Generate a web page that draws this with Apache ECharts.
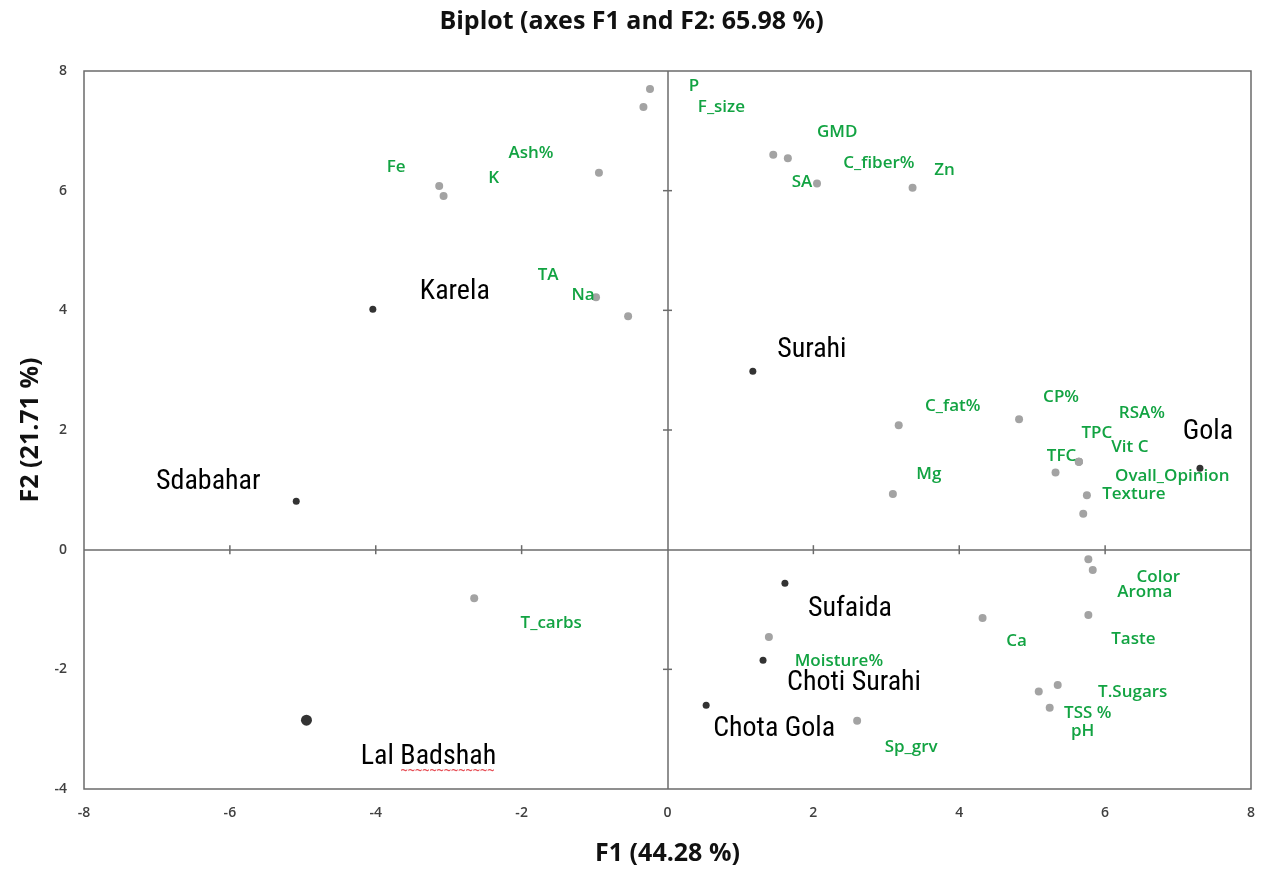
<!DOCTYPE html>
<html>
<head>
<meta charset="utf-8">
<script src="https://cdn.jsdelivr.net/npm/echarts@6/dist/echarts.min.js"></script>
<style>
html,body{margin:0;padding:0;background:#fff;}
#chart{width:1263px;height:871px;}
</style>
</head>
<body>
<div id="chart"></div>
<script>
// ---- Data ----
const varNames = ['P','F_size','Fe','K','Ash%','TA','Na','GMD','C_fiber%','SA','Zn',
  'C_fat%','CP%','RSA%','TPC','Vit C','TFC','Ovall_Opinion','Texture','Mg',
  'Color','Aroma','Taste','Ca','T.Sugars','TSS %','pH','Moisture%','Sp_grv','T_carbs'];
const varF1 = [-0.24,-0.33,-3.13,-3.07,-0.94,-0.54,-0.98,1.45,1.65,2.05,3.36,
  3.17,4.82,5.64,5.64,5.64,5.32,5.70,5.75,3.09,
  5.77,5.83,5.77,4.32,5.35,5.09,5.24,1.39,2.60,-2.65];
const varF2 = [7.70,7.40,6.08,5.91,6.30,3.90,4.22,6.60,6.54,6.12,6.05,
  2.08,2.18,1.47,1.47,1.47,1.29,0.60,0.91,0.93,
  -0.16,-0.34,-1.09,-1.14,-2.26,-2.37,-2.64,-1.46,-2.86,-0.81];

const obsNames = ['Karela','Sdabahar','Surahi','Gola','Sufaida','Choti Surahi','Chota Gola','Lal Badshah'];
const obsF1 = [-4.04,-5.09,1.17,7.30,1.61,1.31,0.53,-4.95];
const obsF2 = [4.02,0.81,2.98,1.36,-0.56,-1.85,-2.60,-2.85];

const xTicks = [-8,-6,-4,-2,0,2,4,6,8];
const yTicks = [-4,-2,0,2,4,6,8];

const titleText = 'Biplot (axes F1 and F2: 65.98 %)';
const xName = 'F1 (44.28 %)';
const yName = 'F2 (21.71 %)';

// ---- Styling: label offsets in pixels (label centre relative to the point) ----
const varLabelOffset = {
  'P':[44,-3],'F_size':[78,0],'Fe':[-43,-19],'K':[50,-18],'Ash%':[-68,-20],
  'TA':[-80,-41],'Na':[-13,-2],'GMD':[64,-23],'C_fiber%':[91,5],'SA':[-15,-1],'Zn':[32,-18],
  'C_fat%':[54,-19],'CP%':[42,-22],'RSA%':[63,-49],'TPC':[18,-29],'Vit C':[51,-15],
  'TFC':[6,-16],'Ovall_Opinion':[89,-38],'Texture':[47,-1],'Mg':[36,-20],
  'Color':[70,18],'Aroma':[52,22],'Taste':[45,24],'Ca':[34,23],'T.Sugars':[75,7],
  'TSS %':[49,22],'pH':[33,24],'Moisture%':[70,24],'Sp_grv':[54,26],'T_carbs':[77,25]
};
const obsLabelOffset = {
  'Karela':[82,-17],'Sdabahar':[-88,-19],'Surahi':[59,-21],'Gola':[8,-36],
  'Sufaida':[65,26],'Choti Surahi':[91,23],'Chota Gola':[68,24],'Lal Badshah':[122,37]
};

const axisGray = '#6b6b6b';
const green = '#12a342';

const varData = varNames.map((n,i)=>({
  value:[varF1[i],varF2[i]], name:n,
  label:{offset:varLabelOffset[n]}
}));
const obsData = obsNames.map((n,i)=>({
  value:[obsF1[i],obsF2[i]], name:n,
  symbolSize: n==='Lal Badshah'?11:7,
  label:{offset:obsLabelOffset[n]}
}));
// spell-check squiggle under "Badshah" (decoration attached to that observation)
const lbIdx = obsNames.indexOf('Lal Badshah');
const squiggleData = [{value:[obsF1[lbIdx],obsF2[lbIdx]], name:'~~~~~~~~~~~~~'}];

const xTickMarks = xTicks.filter(t=>t!==0 && t!==xTicks[0] && t!==xTicks[xTicks.length-1]).map(t=>[t,0]);
const yTickMarks = yTicks.filter(t=>t!==0 && t!==yTicks[0] && t!==yTicks[yTicks.length-1]).map(t=>[0,t]);

const boldFont = '"Open Sans", Lato, sans-serif';

const chart = echarts.init(document.getElementById('chart'), null, {renderer:'canvas'});
chart.setOption({
  animation:false,
  backgroundColor:'#fff',
  title:{
    text:titleText, left:'center', top:4,
    textStyle:{fontFamily:boldFont, fontWeight:'bold', fontSize:25, color:'#111'}
  },
  grid:{left:84, right:12, top:71, bottom:81, show:true, borderColor:axisGray, borderWidth:1.5, backgroundColor:'#fff'},
  xAxis:{
    type:'value', min:-8, max:8, interval:2,
    name:xName, nameLocation:'middle', nameGap:52,
    nameTextStyle:{fontFamily:boldFont, fontWeight:'bold', fontSize:25, color:'#111'},
    axisLine:{show:false, onZero:false}, axisTick:{show:false}, splitLine:{show:false},
    axisLabel:{margin:17, fontFamily:'"Open Sans", sans-serif', fontWeight:600, fontSize:14, color:'#404040'}
  },
  yAxis:{
    type:'value', min:-4, max:8, interval:2,
    name:yName, nameLocation:'middle', nameGap:38, nameRotate:90,
    nameTextStyle:{fontFamily:boldFont, fontWeight:'bold', fontSize:25, color:'#111'},
    axisLine:{show:false, onZero:false}, axisTick:{show:false}, splitLine:{show:false},
    axisLabel:{margin:17, fontFamily:'"Open Sans", sans-serif', fontWeight:600, fontSize:14, color:'#404040'}
  },
  series:[
    {
      type:'scatter', name:'axes', silent:true, symbol:'none', data:[],
      markLine:{
        silent:true, symbol:['none','none'], label:{show:false},
        lineStyle:{color:axisGray, width:1.5, type:'solid'},
        data:[{xAxis:0},{yAxis:0}]
      }
    },
    {type:'scatter', silent:true, symbol:'rect', symbolSize:[1.5,9], itemStyle:{color:axisGray, opacity:1}, data:xTickMarks},
    {type:'scatter', silent:true, symbol:'rect', symbolSize:[9,1.5], itemStyle:{color:axisGray, opacity:1}, data:yTickMarks},
    {
      type:'scatter', name:'Variables', symbolSize:8,
      itemStyle:{color:'#a3a3a3', opacity:1},
      label:{show:true, position:'inside', formatter:'{b}', color:green,
        fontFamily:'"Open Sans", sans-serif', fontWeight:600, fontSize:17},
      data:varData, z:3
    },
    {
      type:'scatter', name:'squiggle', silent:true, symbol:'circle', symbolSize:1,
      itemStyle:{color:'rgba(0,0,0,0)'},
      label:{show:true, position:'inside', formatter:'{b}', color:'#e0202a', offset:[141,51],
        fontFamily:'"DejaVu Sans Mono", monospace', fontSize:12, fontWeight:'bold'},
      data:squiggleData, z:4
    },
    {
      type:'scatter', name:'Observations',
      itemStyle:{color:'#333333', opacity:1},
      label:{show:true, position:'inside', formatter:'{b}', color:'#000',
        fontFamily:'"Liberation Sans Narrow", "Arial Narrow", "Roboto Condensed", "Liberation Sans", sans-serif', fontSize:28},
      data:obsData, z:5
    }
  ]
});
</script>
</body>
</html>
